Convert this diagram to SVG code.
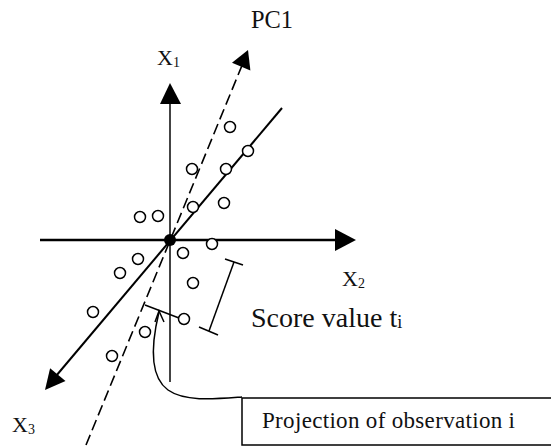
<svg xmlns="http://www.w3.org/2000/svg" width="551" height="447" viewBox="0 0 551 447">
<style>
.lbl{font-family:"Liberation Serif","Times New Roman",serif;fill:#111;}
.pt{fill:#fff;stroke:#000;stroke-width:1.5;}
.ln{stroke:#000;fill:none;}
</style>
<rect width="551" height="447" fill="#fff"/>
<g id="connectors">
  <line id="x2-axis" class="ln" x1="40" y1="240" x2="336" y2="240" stroke-width="2.5"/>
  <polygon points="335,229 356,240 335,251" fill="#000"/>
  <line id="x1-axis" x1="170" y1="382" x2="170" y2="103" stroke="#444" stroke-width="2"/>
  <polygon points="160,104 170,83 181,104" fill="#000"/>
  <line id="pc1-axis" class="ln" x1="86" y1="445" x2="243" y2="63" stroke-width="1.6" stroke-dasharray="11 5"/>
  <polygon points="248,50 250.4,70.4 232,62.8" fill="#000"/>
  <line id="x3-axis" class="ln" x1="282" y1="108" x2="56" y2="376" stroke-width="2"/>
  <polygon points="45,390 50.1,368.2 65.5,381" fill="#000"/>
  <line id="projection" class="ln" x1="145" y1="305" x2="179" y2="318" stroke-width="1.5"/>
  <g id="score-bracket" class="ln" stroke-width="1.5">
    <line x1="234" y1="262" x2="209" y2="331"/>
    <line x1="225" y1="259" x2="243" y2="265"/>
    <line x1="199" y1="327" x2="218" y2="335"/>
  </g>
  <path id="pointer" class="ln" stroke-width="1.5" d="M242,397 C215,399 185,402 168,390 C150,377 151,345 159,312"/>
  <polyline class="ln" stroke-width="1.5" points="155,322 159,311 164,322"/>
</g>
<g id="origin"><circle cx="170" cy="240" r="6" fill="#000"/></g>
<g id="points">
  <circle class="pt" cx="230" cy="127" r="5.5"/>
  <circle class="pt" cx="248" cy="151" r="5.5"/>
  <circle class="pt" cx="226" cy="169" r="5.5"/>
  <circle class="pt" cx="192" cy="169" r="5.5"/>
  <circle class="pt" cx="193" cy="207" r="5.5"/>
  <circle class="pt" cx="224" cy="203" r="5.5"/>
  <circle class="pt" cx="140" cy="217" r="5.5"/>
  <circle class="pt" cx="158" cy="216" r="5.5"/>
  <circle class="pt" cx="212" cy="244" r="5.5"/>
  <circle class="pt" cx="183" cy="253" r="5.5"/>
  <circle class="pt" cx="138" cy="259" r="5.5"/>
  <circle class="pt" cx="120" cy="273" r="5.5"/>
  <circle class="pt" cx="193" cy="283" r="5.5"/>
  <circle class="pt" cx="93" cy="312" r="5.5"/>
  <circle class="pt" cx="184" cy="319" r="5.5"/>
  <circle class="pt" cx="145" cy="332" r="5.5"/>
  <circle class="pt" cx="112" cy="356" r="5.5"/>
</g>
<g id="label-pc1"><text class="lbl" x="251" y="28" font-size="26" textLength="42" lengthAdjust="spacingAndGlyphs">PC1</text></g>
<g id="label-x1"><text class="lbl" x="157" y="65" font-size="22">X<tspan font-size="14" dy="2">1</tspan></text></g>
<g id="label-x2"><text class="lbl" x="342" y="286" font-size="22">X<tspan font-size="14" dy="2">2</tspan></text></g>
<g id="label-x3"><text class="lbl" x="12" y="432" font-size="22">X<tspan font-size="14" dy="2">3</tspan></text></g>
<g id="label-score"><text class="lbl" x="251" y="327" font-size="28">Score value t<tspan font-size="18" dy="1">i</tspan></text></g>
<g id="projection-box">
  <rect x="242" y="398" width="320" height="47" fill="#fff" stroke="#000" stroke-width="1.5"/>
  <text class="lbl" x="262" y="428" font-size="23" textLength="253" lengthAdjust="spacing">Projection of observation i</text>
</g>
</svg>
